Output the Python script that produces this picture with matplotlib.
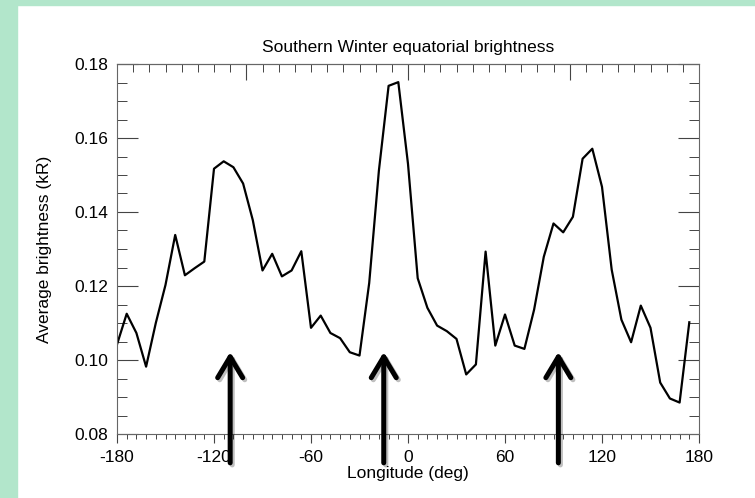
import matplotlib.pyplot as plt
import matplotlib.patheffects as pe
from matplotlib.patches import Rectangle
from matplotlib.ticker import MultipleLocator

plt.rcParams['font.family'] = ['Liberation Sans', 'DejaVu Sans']
plt.rcParams['axes.unicode_minus'] = False

# longitude bins (deg) and mean equatorial brightness (kR)
lon = [-180, -174, -168, -162, -156, -150, -144, -138, -132, -126,
       -120, -114, -108, -102, -96, -90, -84, -78, -72, -66,
       -60, -54, -48, -42, -36, -30, -24, -18, -12, -6,
       0, 6, 12, 18, 24, 30, 36, 42, 48, 54,
       60, 66, 72, 78, 84, 90, 96, 102, 108, 114,
       120, 126, 132, 138, 144, 150, 156, 162, 168, 174]
brightness = [0.1042, 0.1125, 0.1073, 0.0982, 0.1100, 0.1203, 0.1338, 0.1229, 0.1248, 0.1266,
              0.1517, 0.1537, 0.1521, 0.1477, 0.1378, 0.1242, 0.1287, 0.1226, 0.1242, 0.1294,
              0.1087, 0.1120, 0.1073, 0.1059, 0.1021, 0.1012, 0.1208, 0.1512, 0.1741, 0.1751,
              0.1530, 0.1221, 0.1141, 0.1093, 0.1078, 0.1057, 0.0961, 0.0988, 0.1293, 0.1039,
              0.1123, 0.1039, 0.1030, 0.1136, 0.1279, 0.1369, 0.1345, 0.1387, 0.1544, 0.1571,
              0.1468, 0.1244, 0.1109, 0.1048, 0.1147, 0.1087, 0.0939, 0.0896, 0.0885, 0.1102]

# longitudes flagged with arrows
arrow_lon = [-110, -15, 93]

fig = plt.figure(figsize=(7.55, 4.98), dpi=100)
fig.patches.append(Rectangle((0, 0), 17 / 755, 1, transform=fig.transFigure,
                             color='#b2e6cb', zorder=-1))
fig.patches.append(Rectangle((0, 1 - 5 / 498), 1, 5 / 498, transform=fig.transFigure,
                             color='#b2e6cb', zorder=-1))

ax = fig.add_axes([117 / 755, 64 / 498, 582 / 755, 370 / 498])
ax.plot(lon, brightness, color='black', lw=1.6)

ax.set_xlim(-180, 180)
ax.set_ylim(0.08, 0.18)
ax.set_xticks([-180, -120, -60, 0, 60, 120, 180])
ax.xaxis.set_minor_locator(MultipleLocator(6))
ax.set_yticks([0.08, 0.10, 0.12, 0.14, 0.16, 0.18])
ax.set_yticklabels(['0.08', '0.10', '0.12', '0.14', '0.16', '0.18'])
ax.yaxis.set_minor_locator(MultipleLocator(0.005))

for s in ax.spines.values():
    s.set_color('#666666')
    s.set_linewidth(0.8)

ax.tick_params(axis='x', which='major', direction='out', length=6.5, width=0.8,
               color='#444444', labelsize=12.5, pad=5, top=False)
ax.tick_params(axis='x', which='minor', direction='out', length=3.6, width=0.7,
               color='#444444', top=False)
ax.tick_params(axis='y', which='major', direction='in', length=15, width=0.8,
               color='#444444', labelsize=12.5, pad=6.5, right=True)
ax.tick_params(axis='y', which='minor', direction='in', length=7.2, width=0.7,
               color='#444444', right=True)

top = ax.secondary_xaxis('top')
top.set_xticks([-100, 0, 100])
top.xaxis.set_minor_locator(MultipleLocator(10))
top.tick_params(which='major', direction='in', length=11.5, width=0.8,
                color='#444444', labeltop=False)
top.tick_params(which='minor', direction='in', length=5.8, width=0.7,
                color='#444444')
top.spines['top'].set_color('#666666')
top.spines['top'].set_linewidth(0.8)

ax.set_title('Southern Winter equatorial brightness', fontsize=12.5, pad=9)
ax.set_xlabel('Longitude (deg)', fontsize=12.5, labelpad=1)
ax.set_ylabel('Average brightness (kR)', fontsize=12.5, labelpad=16)

for xa in arrow_lon:
    ann = ax.annotate('', xy=(xa, 0.2216), xytext=(xa, -0.078),
                      xycoords=('data', 'axes fraction'),
                      textcoords=('data', 'axes fraction'),
                      annotation_clip=False,
                      arrowprops=dict(arrowstyle='->, head_length=0.75, head_width=0.45',
                                      mutation_scale=20, lw=3.6, color='black',
                                      shrinkA=0, shrinkB=0))
    ann.arrow_patch.set_path_effects([
        pe.SimpleLineShadow(offset=(1.5, -1.5), shadow_color='black', alpha=0.25),
        pe.Normal()])

fig.savefig('out.png', dpi=100)
